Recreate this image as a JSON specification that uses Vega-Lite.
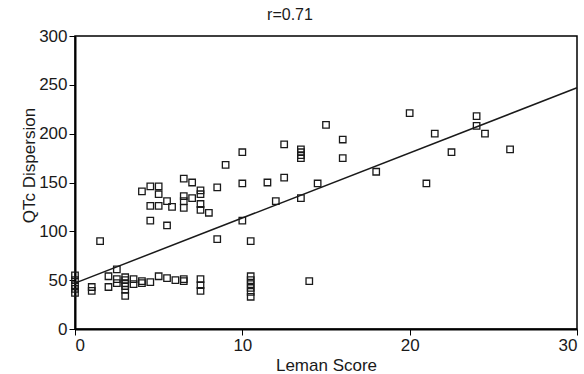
{
  "$schema": "https://vega.github.io/schema/vega-lite/v6.json",
  "width": 502,
  "height": 293,
  "autosize": {"type": "none"},
  "padding": {"left": 75, "top": 36, "right": 7, "bottom": 45},
  "config": {
    "font": "Liberation Sans",
    "view": {"stroke": "black", "strokeWidth": 1.5},
    "axis": {
      "grid": false,
      "domainColor": "black",
      "domainWidth": 2,
      "tickColor": "black",
      "tickWidth": 1,
      "tickSize": 6,
      "labelFontSize": 17,
      "labelColor": "#1a1a1a",
      "titleFontSize": 17,
      "titleFontWeight": "normal",
      "titleColor": "#1a1a1a",
      "labelPadding": 2
    }
  },
  "title": {
    "text": "r=0.71",
    "fontSize": 16,
    "fontWeight": "normal",
    "color": "#1a1a1a",
    "anchor": "middle",
    "dx": -36,
    "offset": 4
  },
  "datasets": {
    "points": [
      {"leman": 1.5, "qtc": 90}, {"leman": 4, "qtc": 141}, {"leman": 4.5, "qtc": 146}, {"leman": 5, "qtc": 146},
      {"leman": 5, "qtc": 138}, {"leman": 5.5, "qtc": 131}, {"leman": 5.8, "qtc": 125}, {"leman": 4.5, "qtc": 126},
      {"leman": 5, "qtc": 126}, {"leman": 4.5, "qtc": 111}, {"leman": 5.5, "qtc": 106},
      {"leman": 10, "qtc": 181}, {"leman": 12.5, "qtc": 189}, {"leman": 9, "qtc": 168}, {"leman": 6.5, "qtc": 154},
      {"leman": 7, "qtc": 150}, {"leman": 7.5, "qtc": 142}, {"leman": 7.5, "qtc": 138}, {"leman": 8.5, "qtc": 145},
      {"leman": 10, "qtc": 149}, {"leman": 11.5, "qtc": 150}, {"leman": 12.5, "qtc": 155}, {"leman": 6.5, "qtc": 136},
      {"leman": 6.5, "qtc": 131}, {"leman": 7, "qtc": 134}, {"leman": 6.5, "qtc": 124}, {"leman": 7.5, "qtc": 128},
      {"leman": 7.5, "qtc": 122}, {"leman": 8, "qtc": 119}, {"leman": 12, "qtc": 131}, {"leman": 10, "qtc": 111},
      {"leman": 8.5, "qtc": 92}, {"leman": 10.5, "qtc": 90},
      {"leman": 20, "qtc": 221}, {"leman": 15, "qtc": 209}, {"leman": 16, "qtc": 194}, {"leman": 13.5, "qtc": 184},
      {"leman": 13.5, "qtc": 181}, {"leman": 13.5, "qtc": 178}, {"leman": 13.5, "qtc": 175}, {"leman": 16, "qtc": 175},
      {"leman": 14.5, "qtc": 149}, {"leman": 18, "qtc": 161}, {"leman": 21, "qtc": 149}, {"leman": 13.5, "qtc": 134},
      {"leman": 14, "qtc": 49},
      {"leman": 24, "qtc": 218}, {"leman": 24, "qtc": 208}, {"leman": 24.5, "qtc": 200}, {"leman": 21.5, "qtc": 200},
      {"leman": 22.5, "qtc": 181}, {"leman": 26, "qtc": 184},
      {"leman": 0, "qtc": 55}, {"leman": 0, "qtc": 50}, {"leman": 0, "qtc": 45}, {"leman": 0, "qtc": 41}, {"leman": 0, "qtc": 37},
      {"leman": 1, "qtc": 43}, {"leman": 1, "qtc": 39},
      {"leman": 2, "qtc": 54}, {"leman": 2, "qtc": 43},
      {"leman": 2.5, "qtc": 61}, {"leman": 2.5, "qtc": 51}, {"leman": 2.5, "qtc": 47},
      {"leman": 3, "qtc": 53}, {"leman": 3, "qtc": 50}, {"leman": 3, "qtc": 47}, {"leman": 3, "qtc": 44}, {"leman": 3, "qtc": 40}, {"leman": 3, "qtc": 34},
      {"leman": 3.5, "qtc": 51}, {"leman": 3.5, "qtc": 46},
      {"leman": 4, "qtc": 47}, {"leman": 4, "qtc": 49},
      {"leman": 4.5, "qtc": 48}, {"leman": 5, "qtc": 54}, {"leman": 5.5, "qtc": 52}, {"leman": 6, "qtc": 50},
      {"leman": 6.5, "qtc": 51}, {"leman": 6.5, "qtc": 49},
      {"leman": 7.5, "qtc": 51}, {"leman": 7.5, "qtc": 45}, {"leman": 7.5, "qtc": 39},
      {"leman": 10.5, "qtc": 54}, {"leman": 10.5, "qtc": 50}, {"leman": 10.5, "qtc": 46}, {"leman": 10.5, "qtc": 42}, {"leman": 10.5, "qtc": 38}, {"leman": 10.5, "qtc": 33}
    ],
    "fit": [
      {"leman": 0, "qtc": 47},
      {"leman": 30, "qtc": 247}
    ]
  },
  "encoding": {
    "x": {
      "field": "leman",
      "type": "quantitative",
      "title": "Leman Score",
      "scale": {"domain": [0, 30], "nice": false},
      "axis": {"values": [0, 10, 20, 30], "titlePadding": 4}
    },
    "y": {
      "field": "qtc",
      "type": "quantitative",
      "title": "QTc Dispersion",
      "scale": {"domain": [0, 300], "nice": false},
      "axis": {"values": [0, 50, 100, 150, 200, 250, 300], "titlePadding": 0, "titleY": 129}
    }
  },
  "layer": [
    {
      "data": {"name": "fit"},
      "mark": {"type": "line", "color": "#1a1a1a", "strokeWidth": 1.5}
    },
    {
      "data": {"name": "points"},
      "mark": {"type": "point", "shape": "square", "filled": false, "size": 42, "stroke": "#1a1a1a", "strokeWidth": 1.3, "opacity": 1}
    }
  ]
}
